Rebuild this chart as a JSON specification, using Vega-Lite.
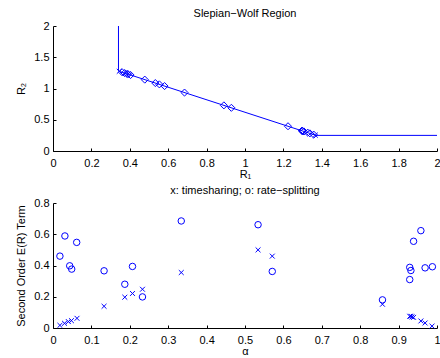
{
  "$schema": "https://vega.github.io/schema/vega-lite/v6.json",
  "padding": {"left": 15, "top": 8, "right": 0, "bottom": 0},
  "bounds": "flush",
  "spacing": 52,
  "config": {
    "view": {"stroke": null},
    "font": "Liberation Sans",
    "axis": {
      "domainColor": "#000", "tickColor": "#000", "labelColor": "#000", "titleColor": "#000",
      "labelFont": "Liberation Sans", "titleFont": "Liberation Sans",
      "labelFontSize": 11, "titleFontSize": 11, "titleFontWeight": "normal",
      "grid": false, "tickSize": -3, "domainWidth": 1, "tickWidth": 1,
      "labelFlush": false, "labelOverlap": false, "format": "~g"
    },
    "axisX": {"labelPadding": 9, "titlePadding": 0, "labelOverlap": false},
    "axisY": {"labelPadding": 7, "titlePadding": 7, "labelOverlap": false},
    "axisQuantitative": {"labelOverlap": false},
    "title": {"fontSize": 11, "fontWeight": "normal", "font": "Liberation Sans", "color": "#000", "offset": 1}
  },
  "datasets": {
    "region": [
      {"i": 0, "r1": 0.341, "r2": 2.0},
      {"i": 1, "r1": 0.341, "r2": 1.279},
      {"i": 2, "r1": 1.37, "r2": 0.25},
      {"i": 3, "r1": 2.0, "r2": 0.25}
    ],
    "splits": [
      {"r1": 0.360, "r2": 1.260},
      {"r1": 0.373, "r2": 1.247},
      {"r1": 0.386, "r2": 1.234},
      {"r1": 0.391, "r2": 1.229},
      {"r1": 0.404, "r2": 1.216},
      {"r1": 0.478, "r2": 1.142},
      {"r1": 0.533, "r2": 1.087},
      {"r1": 0.554, "r2": 1.066},
      {"r1": 0.581, "r2": 1.039},
      {"r1": 0.685, "r2": 0.935},
      {"r1": 0.890, "r2": 0.730},
      {"r1": 0.929, "r2": 0.691},
      {"r1": 1.224, "r2": 0.396},
      {"r1": 1.296, "r2": 0.324},
      {"r1": 1.298, "r2": 0.322},
      {"r1": 1.300, "r2": 0.320},
      {"r1": 1.307, "r2": 0.313},
      {"r1": 1.327, "r2": 0.293},
      {"r1": 1.338, "r2": 0.282},
      {"r1": 1.358, "r2": 0.262}
    ],
    "corners": [
      {"r1": 0.345, "r2": 1.275},
      {"r1": 1.366, "r2": 0.254}
    ],
    "rs": [
      {"alpha": 0.018, "e": 0.46},
      {"alpha": 0.031, "e": 0.589},
      {"alpha": 0.0435, "e": 0.398},
      {"alpha": 0.0487, "e": 0.377},
      {"alpha": 0.0617, "e": 0.548},
      {"alpha": 0.133, "e": 0.366},
      {"alpha": 0.187, "e": 0.28},
      {"alpha": 0.207, "e": 0.394},
      {"alpha": 0.233, "e": 0.199},
      {"alpha": 0.334, "e": 0.685},
      {"alpha": 0.534, "e": 0.661},
      {"alpha": 0.571, "e": 0.362},
      {"alpha": 0.858, "e": 0.18},
      {"alpha": 0.929, "e": 0.388},
      {"alpha": 0.932, "e": 0.368},
      {"alpha": 0.929, "e": 0.31},
      {"alpha": 0.939, "e": 0.555},
      {"alpha": 0.958, "e": 0.623},
      {"alpha": 0.969, "e": 0.385},
      {"alpha": 0.988, "e": 0.392}
    ],
    "ts": [
      {"alpha": 0.018, "e": 0.017},
      {"alpha": 0.030, "e": 0.03},
      {"alpha": 0.040, "e": 0.041},
      {"alpha": 0.048, "e": 0.047},
      {"alpha": 0.0625, "e": 0.062},
      {"alpha": 0.133, "e": 0.139},
      {"alpha": 0.187, "e": 0.197},
      {"alpha": 0.207, "e": 0.221},
      {"alpha": 0.233, "e": 0.248},
      {"alpha": 0.334, "e": 0.355},
      {"alpha": 0.534, "e": 0.50},
      {"alpha": 0.571, "e": 0.46},
      {"alpha": 0.858, "e": 0.152},
      {"alpha": 0.929, "e": 0.075},
      {"alpha": 0.932, "e": 0.075},
      {"alpha": 0.935, "e": 0.071},
      {"alpha": 0.939, "e": 0.068},
      {"alpha": 0.958, "e": 0.045},
      {"alpha": 0.969, "e": 0.032},
      {"alpha": 0.987, "e": 0.012}
    ]
  },
  "vconcat": [
    {
      "width": 384,
      "height": 125,
      "title": "Slepian−Wolf Region",
      "encoding": {
        "x": {"field": "r1", "type": "quantitative", "scale": {"domain": [0, 2], "nice": false},
              "axis": {"title": "R₁", "labelOverlap": false, "format": "~g", "values": [0, 0.2, 0.4, 0.6, 0.8, 1, 1.2, 1.4, 1.6, 1.8, 2]}},
        "y": {"field": "r2", "type": "quantitative", "scale": {"domain": [0, 2], "nice": false},
              "axis": {"title": "R₂", "labelOverlap": false, "format": "~g", "values": [0, 0.5, 1, 1.5, 2]}}
      },
      "layer": [
        {
          "data": {"name": "region"},
          "mark": {"type": "line", "color": "#0000ff", "strokeWidth": 1},
          "encoding": {"order": {"field": "i"}}
        },
        {
          "data": {"name": "splits"},
          "mark": {"type": "point", "shape": "diamond", "color": "#0000ff", "filled": false, "size": 50, "strokeWidth": 1, "opacity": 1}
        },
        {
          "data": {"name": "corners"},
          "mark": {"type": "point", "shape": "M-1,-1L1,1M-1,1L1,-1", "color": "#0000ff", "filled": false, "size": 24, "strokeWidth": 1, "opacity": 1}
        }
      ]
    },
    {
      "width": 384,
      "height": 125,
      "title": "x: timesharing; o: rate−splitting",
      "encoding": {
        "x": {"field": "alpha", "type": "quantitative", "scale": {"domain": [0, 1], "nice": false},
              "axis": {"title": "α", "labelOverlap": false, "format": "~g", "values": [0, 0.1, 0.2, 0.3, 0.4, 0.5, 0.6, 0.7, 0.8, 0.9, 1]}},
        "y": {"field": "e", "type": "quantitative", "scale": {"domain": [0, 0.8], "nice": false},
              "axis": {"title": "Second Order E(R) Term", "labelOverlap": false, "format": "~g", "values": [0, 0.2, 0.4, 0.6, 0.8]}}
      },
      "layer": [
        {
          "data": {"name": "rs"},
          "mark": {"type": "point", "shape": "circle", "color": "#0000ff", "filled": false, "size": 42, "strokeWidth": 1, "opacity": 1}
        },
        {
          "data": {"name": "ts"},
          "mark": {"type": "point", "shape": "M-1,-1L1,1M-1,1L1,-1", "color": "#0000ff", "filled": false, "size": 24, "strokeWidth": 1, "opacity": 1}
        }
      ]
    }
  ]
}
